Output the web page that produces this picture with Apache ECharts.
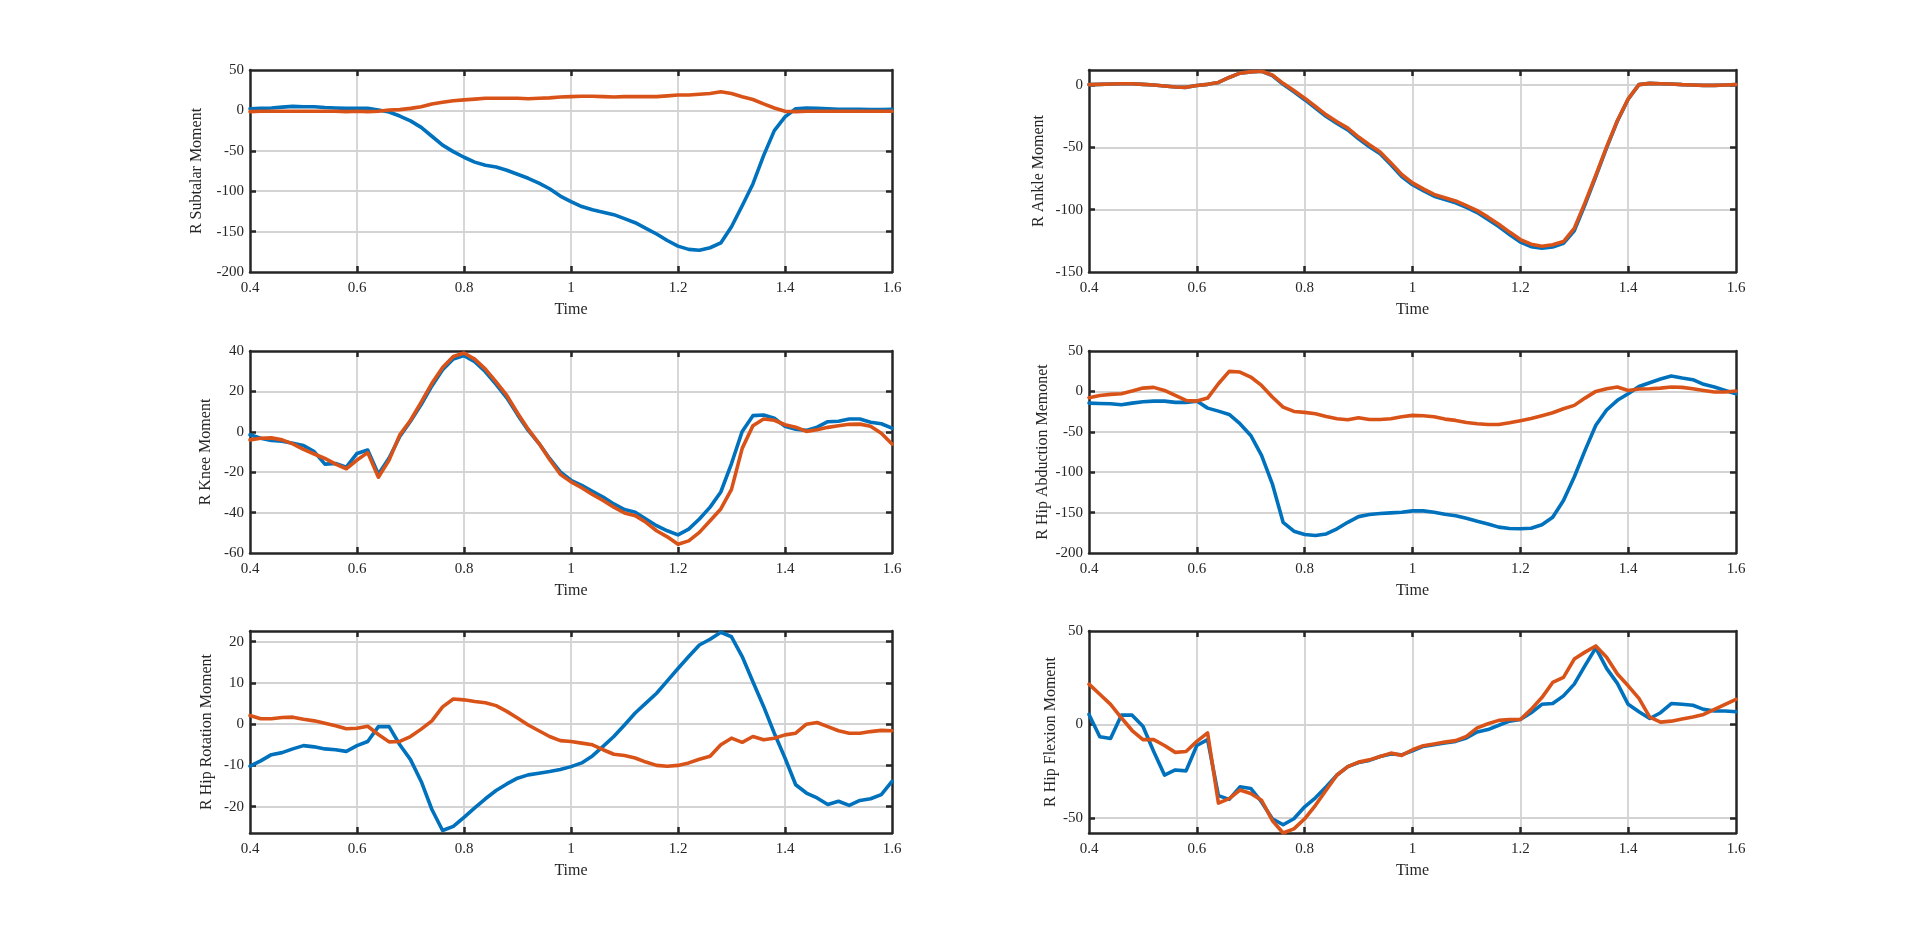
<!DOCTYPE html>
<html><head><meta charset="utf-8">
<script src="https://cdn.jsdelivr.net/npm/echarts@6/dist/echarts.min.js"></script>
<style>html,body{margin:0;padding:0;background:#fff}#c{width:1920px;height:936px}</style>
</head><body><div id="c"></div>
<script>
// Time samples (s)
const time = [0.40,0.42,0.44,0.46,0.48,0.50,0.52,0.54,0.56,0.58,
  0.60,0.62,0.64,0.66,0.68,0.70,0.72,0.74,0.76,0.78,
  0.80,0.82,0.84,0.86,0.88,0.90,0.92,0.94,0.96,0.98,
  1.00,1.02,1.04,1.06,1.08,1.10,1.12,1.14,1.16,1.18,
  1.20,1.22,1.24,1.26,1.28,1.30,1.32,1.34,1.36,1.38,
  1.40,1.42,1.44,1.46,1.48,1.50,1.52,1.54,1.56,1.58,
  1.60];
const xTicks = [0.4,0.6,0.8,1,1.2,1.4,1.6];

// R Subtalar Moment
const subtalarBlue = [2,2.5,3,4,5,4.5,4.5,3.5,3,2.5,
  2.5,2.5,0.5,-2,-7,-13,-21,-32,-43,-51,
  -58,-64,-68,-70,-74,-79,-84,-90,-97,-106,
  -113,-119,-123,-126,-129,-134,-139,-146,-153,-161,
  -168,-172,-173,-170,-164,-144,-118,-91,-56,-25,
  -8,2,3,2.5,2,1.5,1.5,1.5,1,1,
  1.5];
const subtalarOrange = [-1.5,-1,-1,-1,-1,-1,-1,-1,-1,-1.5,
  -1,-1.5,-1,0.5,1,2.5,4.5,8,10,12,
  13,14,15,15,15,15,14.5,15,15.5,16.5,
  17,17.5,17.5,17,16.5,17,17,17,17,18,
  19,19,20,21,23,21,17,13.5,8,3,
  -1,-1.5,-1,-1,-1,-1,-1,-1,-1,-1,
  -1];

// R Ankle Moment
const ankleBlue = [0.3,0.5,0.8,1,1,0.5,0,-0.8,-1.6,-1.9,
  -0.5,0.5,2,6,9.5,10.5,11,7.5,0.5,-5.5,
  -11.8,-18.5,-25.3,-30.8,-36,-43.2,-49.5,-55.2,-64,-73.5,
  -80,-84.8,-89.2,-91.8,-94.5,-98.2,-102.3,-107.8,-113.5,-120,
  -126,-129.7,-131,-130,-127,-117,-96,-73.5,-50.5,-29,
  -11.5,0.3,1.3,1,0.8,0.3,0,-0.3,-0.3,0,
  0.3];
const ankleOrange = [0.3,0.5,0.8,1,1,0.5,0,-0.8,-1.6,-1.9,
  -0.5,0.5,2,6,9.5,10.5,11,8,1.3,-4.5,
  -10.6,-17.3,-24,-29.5,-34.6,-41.8,-48,-53.7,-62.5,-71.8,
  -78.5,-83.3,-87.8,-90.4,-93,-96.8,-100.8,-106,-111.7,-118,
  -124,-127.7,-129.3,-128.2,-125.6,-115,-94.4,-72.4,-49.7,-28.5,
  -11.2,0.3,1.3,1,0.8,0.3,0,-0.3,-0.3,0,
  0.3];

// R Knee Moment
const kneeBlue = [-1.5,-3.2,-4.3,-4.7,-5.7,-6.8,-9.8,-16,-15.7,-17.5,
  -10.7,-9,-21,-13,-2.3,5.2,13.5,22.7,30.7,36,
  37.7,34.7,29.7,23.5,16.8,8.5,0.7,-5.7,-13.2,-19.8,
  -24,-26.5,-29.5,-32.3,-35.7,-38.5,-39.8,-43.2,-46.5,-49,
  -51,-48.2,-43.2,-37.3,-29.8,-15.7,0.2,8,8.3,6.7,
  2.7,1.3,0.7,2.3,5,5.2,6.3,6.3,4.7,4,
  1.8];
const kneeOrange = [-4,-3.2,-3,-4,-6,-8.7,-11,-13.2,-16,-18.3,
  -14,-10.3,-22.5,-14,-1.5,5.7,14.7,24,31.8,37.3,
  39,36,31,24.7,18,9.3,1.3,-5.7,-13.7,-21,
  -24.8,-27.7,-31,-34,-37.3,-40.2,-41.5,-44.8,-49,-52,
  -55.7,-54,-49.8,-44,-38.2,-28.5,-8.2,3,6.3,5.7,
  3.5,2.3,0.2,1,2.2,3,3.7,3.8,2.7,-0.7,
  -6];

// R Hip Abduction Memonet
const abductionBlue = [-14.5,-14.9,-15.3,-16.5,-14.5,-12.8,-12,-12,-13.6,-13.6,
  -12,-20.7,-24.4,-28.5,-40,-54.5,-79.3,-114.4,-162,-173,
  -177,-178.4,-176.4,-170,-162,-155,-152.4,-151.2,-150.3,-149.5,
  -147.9,-147.9,-149.5,-152,-154,-157,-160.7,-164,-168,-169.7,
  -170,-169.3,-165,-155.7,-135,-106,-73,-42,-23,-11,
  -3,6,10.7,15.3,19,16.5,14.5,8.7,5.4,1.2,
  -3];
const abductionOrange = [-7.8,-5,-3.7,-2.9,0.4,4.1,5,1.2,-5,-11.2,
  -12,-8.3,9.5,24.8,24,17.8,7.4,-7,-19.4,-24.8,
  -26,-27.7,-31,-33.9,-35.1,-32.6,-34.7,-34.7,-33.9,-31.4,
  -29.7,-30.1,-31.4,-34.3,-35.9,-38.4,-40,-40.9,-40.9,-38.8,
  -36.3,-33.5,-30.1,-26.4,-21.5,-17.3,-8.3,0,3.3,5.4,
  1.2,2.9,3.3,4.1,5.4,5,3.3,1.2,-0.8,-0.8,
  0.4];

// R Hip Rotation Moment
const rotationBlue = [-10.2,-8.9,-7.4,-6.9,-6,-5.2,-5.5,-6,-6.2,-6.6,
  -5.2,-4.2,-0.6,-0.6,-5,-8.6,-13.9,-20.7,-25.8,-24.8,
  -22.6,-20.3,-18.1,-16.1,-14.5,-13.1,-12.3,-11.9,-11.5,-11,
  -10.3,-9.4,-7.7,-5.4,-3,-0.2,2.7,5.1,7.5,10.5,
  13.5,16.4,19.2,20.6,22.3,21.2,16.4,10.3,4.3,-2.2,
  -8.2,-14.7,-16.7,-17.9,-19.5,-18.7,-19.7,-18.5,-18.1,-17.1,
  -13.9];
const rotationOrange = [2.1,1.3,1.3,1.6,1.7,1.2,0.8,0.2,-0.4,-1.1,
  -1,-0.5,-2.5,-4.3,-4.2,-3,-1.2,0.8,4.2,6.1,
  5.9,5.5,5.2,4.5,3.1,1.5,-0.2,-1.6,-3,-4,
  -4.2,-4.6,-5,-6.2,-7.3,-7.6,-8.2,-9.2,-10,-10.2,
  -10,-9.4,-8.5,-7.8,-5,-3.4,-4.4,-3,-3.8,-3.4,
  -2.6,-2.2,0,0.4,-0.6,-1.6,-2.2,-2.2,-1.8,-1.5,
  -1.6];

// R Hip Flexion Moment
const flexionBlue = [5.4,-6.5,-7.5,5,5,-0.9,-14.4,-27,-24.3,-24.8,
  -11.2,-8.1,-38,-40,-33.3,-34.2,-41.4,-50.4,-53.6,-50.4,
  -44,-39.2,-33.3,-27,-22.5,-20.3,-19.2,-17.1,-15.8,-16.2,
  -14,-11.7,-10.8,-9.9,-9,-7.2,-4,-2.7,-0.4,1.8,
  2.7,6.3,10.8,11.2,15.3,21.6,31.5,41,30,22,
  10.8,6.8,3.2,6.3,11.2,10.8,10.3,8.1,7.2,7.2,
  6.8];
const flexionOrange = [21.6,16.2,10.8,3.6,-3.2,-8.1,-8.1,-11.2,-14.9,-14.4,
  -9,-4.5,-42,-39.6,-35,-36.9,-40.5,-51.3,-58,-55.8,
  -50.4,-43.2,-35,-27,-22.5,-20.1,-18.9,-17.1,-15.3,-16.5,
  -13.5,-11.3,-10.4,-9.4,-8.6,-6.3,-1.8,0.4,2.2,2.7,
  2.7,8.1,14.4,22.5,25.2,35,38.7,42,36,27,
  20.7,14,4,1.3,1.8,2.9,4,5.4,8.1,10.8,
  13.5];

// y-axis tick labels per panel
const yTicks1 = [-200,-150,-100,-50,0,50];
const yTicks2 = [-150,-100,-50,0];
const yTicks3 = [-60,-40,-20,0,20,40];
const yTicks4 = [-200,-150,-100,-50,0,50];
const yTicks5 = [-20,-10,0,10,20];
const yTicks6 = [-50,0,50];

const panels = [
  {name:'R Subtalar Moment', blue:subtalarBlue, orange:subtalarOrange, min:-200, max:50, ticks:yTicks1, col:0, row:0, gap:45},
  {name:'R Ankle Moment', blue:ankleBlue, orange:ankleOrange, min:-150, max:12, ticks:yTicks2, col:1, row:0, gap:42},
  {name:'R Knee Moment', blue:kneeBlue, orange:kneeOrange, min:-60, max:40, ticks:yTicks3, col:0, row:1, gap:36},
  {name:'R Hip Abduction Memonet', blue:abductionBlue, orange:abductionOrange, min:-200, max:50, ticks:yTicks4, col:1, row:1, gap:38},
  {name:'R Hip Rotation Moment', blue:rotationBlue, orange:rotationOrange, min:-26.4, max:22.6, ticks:yTicks5, col:0, row:2, gap:35},
  {name:'R Hip Flexion Moment', blue:flexionBlue, orange:flexionOrange, min:-58, max:50, ticks:yTicks6, col:1, row:2, gap:29}
];

const FONT = "'Liberation Serif','Times New Roman',serif";
const AX = '#262626';
const GRIDC = '#d3d3d3';
const colLeft = [250, 1089], colW = [642, 647];
const rowTop = [70, 351, 631], rowH = 202;
const fmt = v => String(Math.round(v * 1000) / 1000);

const grid = [], xAxis = [], yAxis = [], series = [];
panels.forEach((p, i) => {
  grid.push({left: colLeft[p.col], top: rowTop[p.row], width: colW[p.col], height: rowH, containLabel: false});
});
const xInner = xTicks.filter(v => v > 0.4 && v < 1.6);
panels.forEach((p, i) => {
  xAxis.push({
    type:'value', gridIndex:i, min:0.4, max:1.6, position:'bottom',
    name:'Time', nameLocation:'middle', nameGap:30,
    nameTextStyle:{fontFamily:FONT, fontSize:16, color:AX},
    axisLine:{show:true, onZero:false, lineStyle:{color:AX, width:2.5}},
    axisTick:{show:true, inside:true, length:6, lineStyle:{color:AX, width:2.5}, customValues:xInner},
    axisLabel:{show:true, fontFamily:FONT, fontSize:15, color:AX, margin:9, formatter:fmt, customValues:xTicks, showMinLabel:true, showMaxLabel:true},
    splitLine:{show:true, lineStyle:{color:GRIDC, width:1.8}}
  });
});
panels.forEach((p, i) => {
  xAxis.push({
    type:'value', gridIndex:i, min:0.4, max:1.6, position:'top',
    axisLine:{show:true, onZero:false, lineStyle:{color:AX, width:2.5}},
    axisTick:{show:true, inside:true, length:6, lineStyle:{color:AX, width:2.5}, customValues:xInner},
    axisLabel:{show:false}, splitLine:{show:false}
  });
});
panels.forEach((p, i) => {
  const inner = p.ticks.filter(v => v > p.min && v < p.max);
  yAxis.push({
    type:'value', gridIndex:i, min:p.min, max:p.max, position:'left',
    name:p.name, nameLocation:'middle', nameGap:p.gap,
    nameTextStyle:{fontFamily:FONT, fontSize:16, color:AX},
    axisLine:{show:true, onZero:false, lineStyle:{color:AX, width:2.5}},
    axisTick:{show:true, inside:true, length:6, lineStyle:{color:AX, width:2.5}, customValues:inner},
    axisLabel:{show:true, fontFamily:FONT, fontSize:15, color:AX, margin:6, formatter:fmt, customValues:p.ticks, showMinLabel:true, showMaxLabel:true},
    splitLine:{show:true, lineStyle:{color:GRIDC, width:1.8}}
  });
});
panels.forEach((p, i) => {
  const inner = p.ticks.filter(v => v > p.min && v < p.max);
  yAxis.push({
    type:'value', gridIndex:i, min:p.min, max:p.max, position:'right',
    axisLine:{show:true, onZero:false, lineStyle:{color:AX, width:2.5}},
    axisTick:{show:true, inside:true, length:6, lineStyle:{color:AX, width:2.5}, customValues:inner},
    axisLabel:{show:false}, splitLine:{show:false}
  });
});
panels.forEach((p, i) => {
  [[p.blue, '#0072BD'], [p.orange, '#D95319']].forEach(([vals, color], k) => {
    series.push({
      type:'line', xAxisIndex:i, yAxisIndex:i, symbol:'none', smooth:false, clip:true,
      z: 2 + k, animation:false,
      lineStyle:{color:color, width:3.6, join:'round', cap:'round'},
      data: time.map((t, j) => [t, vals[j]])
    });
  });
});

const chart = echarts.init(document.getElementById('c'), null, {renderer:'canvas'});
chart.setOption({backgroundColor:'#ffffff', animation:false, grid, xAxis, yAxis, series});
</script>
</body></html>
